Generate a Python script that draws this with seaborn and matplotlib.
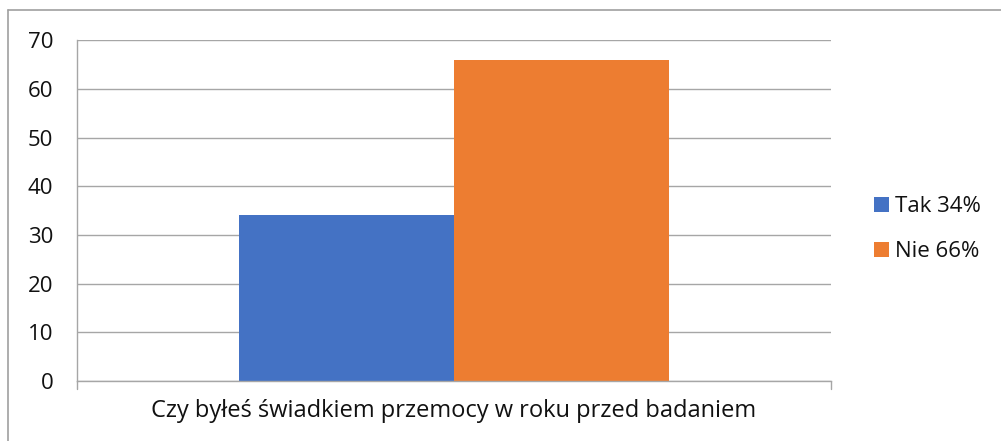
import matplotlib
matplotlib.use("Agg")
import matplotlib.pyplot as plt
from matplotlib.lines import Line2D
import seaborn as sns
import pandas as pd

# Survey answers
category = ["Czy byłeś świadkiem przemocy w roku przed badaniem"]
answers = ["Tak 34%", "Nie 66%"]
values = [34, 66]
colors = ["#4472C4", "#ED7D31"]

df = pd.DataFrame({
    "pytanie": category * len(answers),
    "odpowiedz": answers,
    "wartosc": values,
})

sns.set_style("white")
plt.rcParams["font.family"] = ["Open Sans", "DejaVu Sans"]
FS = 16

fig = plt.figure(figsize=(10.01, 4.41), dpi=100)
ax = fig.add_axes([0.0769, 0.136, 0.7533, 0.773])

sns.barplot(data=df, x="pytanie", y="wartosc", hue="odpowiedz",
            palette=colors, width=0.57, dodge=True, saturation=1,
            linewidth=0, ax=ax, legend=True)

grid_c = "#A6A6A6"
ax.set_ylim(0, 70)
ax.set_xlim(-0.5, 0.5)
ax.set_yticks(range(0, 71, 10))
ax.yaxis.grid(True, color=grid_c, linewidth=1.0)
ax.set_axisbelow(True)
for s in ["top", "right"]:
    ax.spines[s].set_visible(False)
for s in ["left", "bottom"]:
    ax.spines[s].set_color(grid_c)
    ax.spines[s].set_linewidth(1.0)
ax.tick_params(axis="y", length=8, color=grid_c, width=1.0, labelsize=FS,
               pad=9, labelcolor="#111111")
ax.tick_params(axis="x", length=0, labelsize=17, pad=13, labelcolor="#111111")
ax.set_xlabel("")
ax.set_ylabel("")

# category boundary ticks on the x axis
for xb in (-0.5, 0.5):
    ax.plot([xb, xb], [0, -1.6], color=grid_c, lw=1.0, clip_on=False)

handles, labels = ax.get_legend_handles_labels()
leg = ax.legend(handles, labels, loc="center left", bbox_to_anchor=(1.057, 0.446),
                frameon=False, fontsize=FS, handlelength=0.68, handleheight=0.68,
                handletextpad=0.27, labelspacing=1.08, borderpad=0,
                borderaxespad=0)
for t in leg.get_texts():
    t.set_color("#111111")

# outer frame (top and left edges)
fig.add_artist(Line2D([0.008, 1.0], [1 - 10 / 441, 1 - 10 / 441],
                      transform=fig.transFigure, color="#A0A0A0", lw=1.2))
fig.add_artist(Line2D([0.008, 0.008], [0.0, 1 - 10 / 441],
                      transform=fig.transFigure, color="#A0A0A0", lw=1.2))

fig.savefig("out.png", dpi=100)
